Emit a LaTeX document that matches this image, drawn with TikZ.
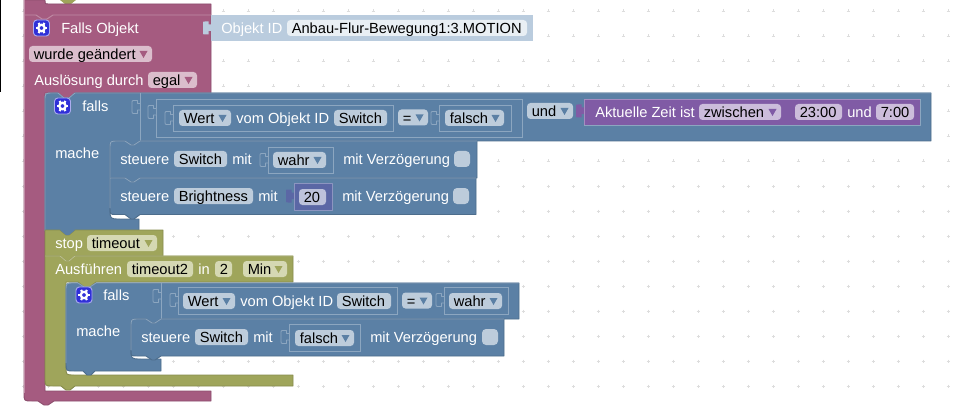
\documentclass[tikz,border=0pt]{standalone}
\usepackage{fontspec}
\setmainfont{Liberation Sans}
\definecolor{mag}{HTML}{A55B80}\definecolor{magd}{HTML}{8C4E6D}\definecolor{magl}{HTML}{C08DA6}\definecolor{magf}{HTML}{DBBDCC}
\definecolor{blu}{HTML}{5B80A5}\definecolor{blud}{HTML}{4D6D8C}\definecolor{blul}{HTML}{8CA6C0}\definecolor{bluf}{HTML}{BDCCDB}
\definecolor{oli}{HTML}{9FA55B}\definecolor{olid}{HTML}{878C4D}\definecolor{olil}{HTML}{BCC08D}\definecolor{olif}{HTML}{D5D8B3}
\definecolor{pur}{HTML}{805BA5}\definecolor{purd}{HTML}{664984}\definecolor{purl}{HTML}{A68CC0}\definecolor{purf}{HTML}{CCBDDB}
\definecolor{num}{HTML}{5B67A5}\definecolor{numd}{HTML}{495284}\definecolor{numl}{HTML}{8C95C0}\definecolor{numf}{HTML}{BDC2DB}
\definecolor{val}{HTML}{BACCDE}\definecolor{valf}{HTML}{E9EFF4}
\definecolor{dotc}{HTML}{DDDDDD}\definecolor{gearc}{HTML}{3030D8}
\tikzset{
  txt/.style={font=\fontsize{11}{13}\selectfont,inner sep=0pt,anchor=base west,text=white},
  fldt/.style={txt,text=black},
  blk/.style={line width=.7pt,line join=round},
  inp/.style={draw=blul,line width=.7pt,fill=none},
  hl/.style={line width=.7pt,line join=round},
  tabl/.style={line width=.6pt,draw=blul,line join=round},
}
\newcommand{\lbl}[4]{\node[txt] (#1) at (#2,#3+5.5) {#4};}
\newcommand{\sfld}[6]{\fill[#5,rounded corners=2.6pt] (#2,#4-8) rectangle (#3,#4+8);
  \node[fldt] (#1) at (#2+4.5,#4+5.5) {#6};}
\newcommand{\dfld}[7]{\fill[#5,rounded corners=2.6pt] (#2,#4-8) rectangle (#3,#4+8);
  \fill[#6] (#3-12.5,#4-3) -- (#3-4.5,#4-3) -- (#3-8.5,#4+4) -- cycle;
  \node[fldt] (#1) at (#2+4.5,#4+5.5) {#7};}
\newcommand{\tabp}[2]{(#1,#2+2.5) -- (#1-2.5,#2+2.5) -- (#1-2.5,#2-.5) -- (#1-6,#2-.5) .. controls (#1-8,#2-.5) .. (#1-8,#2+1.5) -- (#1-8,#2+10) .. controls (#1-8,#2+12.5) .. (#1-6,#2+12.5) -- (#1-2.5,#2+12.5) -- (#1-2.5,#2+9) -- (#1,#2+9)}
\newcommand{\gear}[2]{\fill[gearc,draw=white!60!gearc,line width=.7pt,rounded corners=2.5pt] (#1-8,#2-8) rectangle (#1+8,#2+8);
  \draw[white,line width=1.7pt] (#1,#2) circle (3.2);
  \foreach \a in {0,60,...,300}{\draw[white,line width=1.6pt] (#1+3.5*cos \a,#2+3.5*sin \a) -- (#1+5.8*cos \a,#2+5.8*sin \a);}}
\begin{document}
\begin{tikzpicture}[x=.75pt,y=-.75pt]
\useasboundingbox (0,0) rectangle (965,410);
\fill[white] (0,0) rectangle (965,410);
% grid
\foreach \i in {0,...,37}{\foreach \j in {0,...,15}{
  \draw[dotc,line width=.5pt] ({23+25*\i-1.5},{11+25*\j}) -- ++(3,0) ({23+25*\i},{11+25*\j-1.5}) -- ++(0,3);}}
\fill[black] (0,0) rectangle (1,92);

% Falls Objekt (magenta)
\fill[oli] (60,0) -- (76,0) -- (71,4) -- (65,4) -- cycle;
\path[blk,fill=mag,draw=magd] (24,0) -- (45,0) .. controls (45,4) .. (49,4) -- (211,4) -- (211,93) -- (75,93) -- (69,98) -- (64,98) -- (58,93) -- (45,93) -- (45,391) -- (211,391) -- (211,401) -- (54,401) -- (48,405) -- (44,405) -- (38,401) -- (32,401) .. controls (24,401) .. (24,393) -- cycle;
\draw[hl,magl] (24,15) -- (36,15) -- (42,19) -- (47,19) -- (53,15) -- (211,15);
\draw[hl,magl] (24,393) -- (24,0);
\fill[val] (211,15) rectangle (533,41);
\fill[val] \tabp{211}{22} -- cycle;
\gear{41.5}{28}
\lbl{fallsobj}{61}{28}{Falls Objekt}
\lbl{objid}{221}{28}{Objekt ID}
\sfld{objval}{287}{527}{28}{valf}{Anbau-Flur-Bewegung1:3.MOTION}
\dfld{changed}{29}{152}{54}{magf}{mag}{wurde geändert}
\lbl{trig}{34}{80}{Auslösung durch}
\dfld{egal}{148}{197}{80}{magf}{mag}{egal}

% falls 1 (blue)
\path[blk,fill=blu,draw=blud] (45,101) .. controls (45,93) .. (53,93) -- (58,93) -- (64,98) -- (69,98) -- (75,93) -- (931,93) -- (931,141) -- (140,141) -- (134,145) -- (131,145) -- (125,141) -- (118,141) .. controls (110,141) .. (110,149) -- (110,209) .. controls (110,219) .. (120,219) -- (139,219) -- (139,231) -- (75,231) -- (69,236) -- (64,236) -- (58,231) -- (45,231) -- cycle;
\draw[hl,blul] (45,231) -- (45,101) .. controls (45,93) .. (53,93) -- (58,93) -- (64,98) -- (69,98) -- (75,93) -- (931,93);
\draw[hl,blul] (140,93) -- (140,141);
\draw[tabl] \tabp{140}{101};
\gear{62.5}{106}
\lbl{falls1}{82}{106}{falls}
\lbl{mache1}{55}{153}{mache}
% condition
\draw[inp] (156,99) rectangle (522,137);
\fill[blu] \tabp{156}{106} -- cycle;
\draw[tabl] \tabp{156}{106};
\draw[inp] (173,105) rectangle (393,131);
\draw[tabl] \tabp{173}{112};
\dfld{wert1}{179}{231}{118}{bluf}{blu}{Wert}
\lbl{vom1}{236}{118}{vom Objekt ID}
\sfld{sw1}{334}{387}{118}{bluf}{Switch}
\dfld{eq1}{398}{428}{117.5}{bluf}{blu}{=}
\draw[inp] (439,105) rectangle (511,131);
\draw[tabl] \tabp{439}{112};
\dfld{fa1}{445}{504}{118}{bluf}{blu}{falsch}
\dfld{und1}{527}{573}{111}{bluf}{blu}{und}
% time block
\fill[pur] (584,99) rectangle (920,125);
\fill[pur] \tabp{584}{105} -- cycle;
\draw[hl,purl] (584,125) -- (584,99) -- (920,99);
\draw[hl,blul] (584,125) -- (920,125) -- (920,99);
\lbl{zeit}{595}{112}{Aktuelle Zeit ist}
\dfld{zw}{699}{781}{112}{purf}{pur}{zwischen}
\sfld{t1}{795}{842}{112}{purf}{23:00}
\lbl{und2}{847}{112}{und}
\sfld{t2}{876}{914}{112}{purf}{7:00}

% statement 1
\path[blk,fill=blu,draw=blud] (110,149) .. controls (110,141) .. (118,141) -- (125,141) -- (131,145) -- (134,145) -- (140,141) -- (477,141) -- (477,178) -- (140,178) -- (134,182) -- (131,182) -- (125,178) -- (110,178) -- cycle;
\draw[hl,blul] (110,178) -- (110,149) .. controls (110,141) .. (118,141) -- (125,141) -- (131,145) -- (134,145) -- (140,141) -- (477,141);
\lbl{st1}{120}{159}{steuere}
\sfld{sw2}{174}{227}{159}{bluf}{Switch}
\lbl{mit1}{232}{159}{mit}
\draw[tabl] \tabp{268}{154};
\draw[inp] (268,147) rectangle (333,173);
\dfld{wa1}{273}{326}{160}{bluf}{blu}{wahr}
\lbl{vz1}{343}{159}{mit Verzögerung}
\fill[bluf,rounded corners=3pt] (454,151) rectangle (470,167);
% statement 2
\path[blk,fill=blu,draw=blud] (110,178) -- (125,178) -- (131,182) -- (134,182) -- (140,178) -- (476,178) -- (476,214.5) -- (140,214.5) -- (134,219) -- (131,219) -- (125,214.5) -- (116,214.5) .. controls (110,214.5) .. (110,208) -- cycle;
\draw[hl,blul] (110,208) -- (110,178) -- (125,178) -- (131,182) -- (134,182) -- (140,178) -- (476,178);
\lbl{st2}{120}{196}{steuere}
\sfld{br}{174}{253}{196}{bluf}{Brightness}
\lbl{mit2}{258}{196}{mit}
\fill[num] (294,183) rectangle (332,210);
\fill[num] \tabp{294}{190} -- cycle;
\draw[hl,numl] (294,210) -- (294,183) -- (332,183) -- (332,210) -- cycle;
\sfld{n20}{299}{326}{197}{numf}{20}
\lbl{vz2}{342}{196}{mit Verzögerung}
\fill[bluf,rounded corners=3pt] (453,188) rectangle (469,204);

% stop
\path[blk,fill=oli,draw=olid] (45,230) -- (60,230) -- (66,235) -- (69,235) -- (75,230) -- (163,230) -- (163,256) -- (75,256) -- (69,261) -- (66,261) -- (60,256) -- (45,256) -- cycle;
\fill[blu] (60,230) -- (75,230) -- (69,235) -- (66,235) -- cycle;
\lbl{stop}{55}{243}{stop}
\dfld{tmo}{87}{157}{243}{olif}{oli}{timeout}
% Ausfuehren
\path[blk,fill=oli,draw=olid] (45,256) -- (60,256) -- (66,261) -- (69,261) -- (75,256) -- (293,256) -- (293,282) -- (96,282) -- (90,287) -- (84,287) -- (78,282) -- (66,282) -- (66,367) .. controls (66,375) .. (74,375) -- (293,375) -- (293,386) -- (75,386) -- (70,390) -- (66,390) -- (61,386) -- (53,386) .. controls (45,386) .. (45,378) -- cycle;
\draw[hl,olil] (45,256) -- (60,256) -- (66,261) -- (69,261) -- (75,256) -- (293,256);
\lbl{ausf}{55}{269}{Ausführen}
\sfld{tmo2}{127}{193}{269}{olif}{timeout2}
\lbl{inn}{198}{269}{in}
\sfld{two}{215}{232}{269}{olif}{2}
\dfld{minf}{243}{287}{269}{olif}{oli}{Min}

% falls 2
\path[blk,fill=blu,draw=blud] (66,291) .. controls (66,283) .. (74,283) -- (78,283) -- (84,287) -- (90,287) -- (96,283) -- (519,283) -- (519,319) -- (161,319) -- (155,323) -- (152,323) -- (146,319) -- (139,319) .. controls (131,319) .. (131,327) -- (131,349) .. controls (131,359) .. (141,359) -- (161,359) -- (161,371) -- (95,371) -- (91,375) -- (87,375) -- (83,371) -- (74,371) .. controls (66,371) .. (66,363) -- cycle;
\draw[hl,blul] (66,363) -- (66,291) .. controls (66,283) .. (74,283) -- (78,283) -- (84,287) -- (90,287) -- (96,283) -- (519,283);
\draw[hl,blul] (161,283) -- (161,319);
\draw[tabl] \tabp{161}{290};
\gear{84}{295}
\lbl{falls2}{103}{295}{falls}
\lbl{mache2}{76}{331}{mache}
\draw[inp] (178,287) rectangle (397,314);
\draw[tabl] \tabp{178}{294};
\dfld{wert2}{183}{235}{301}{bluf}{blu}{Wert}
\lbl{vom2}{240}{301}{vom Objekt ID}
\sfld{sw3}{337}{391}{301}{bluf}{Switch}
\dfld{eq2}{402}{432}{300.5}{bluf}{blu}{=}
\draw[inp] (444,287) rectangle (508,314);
\draw[tabl] \tabp{444}{294};
\dfld{wa2}{449}{502}{301}{bluf}{blu}{wahr}
% statement 3
\path[blk,fill=blu,draw=blud] (131,327) .. controls (131,319) .. (139,319) -- (146,319) -- (152,323) -- (155,323) -- (161,319) -- (504,319) -- (504,356) -- (161,356) -- (155,360) -- (152,360) -- (146,356) -- (137,356) .. controls (131,356) .. (131,350) -- cycle;
\draw[hl,blul] (131,350) -- (131,327) .. controls (131,319) .. (139,319) -- (146,319) -- (152,323) -- (155,323) -- (161,319) -- (504,319);
\lbl{st3}{141}{337}{steuere}
\sfld{sw4}{195}{248}{337}{bluf}{Switch}
\lbl{mit3}{253}{337}{mit}
\draw[tabl] \tabp{289}{331};
\draw[inp] (289,324) rectangle (360,351);
\dfld{fa2}{295}{354}{338}{bluf}{blu}{falsch}
\lbl{vz3}{370}{337}{mit Verzögerung}
\fill[bluf,rounded corners=3pt] (482,329) rectangle (498,345);
\end{tikzpicture}
\end{document}
